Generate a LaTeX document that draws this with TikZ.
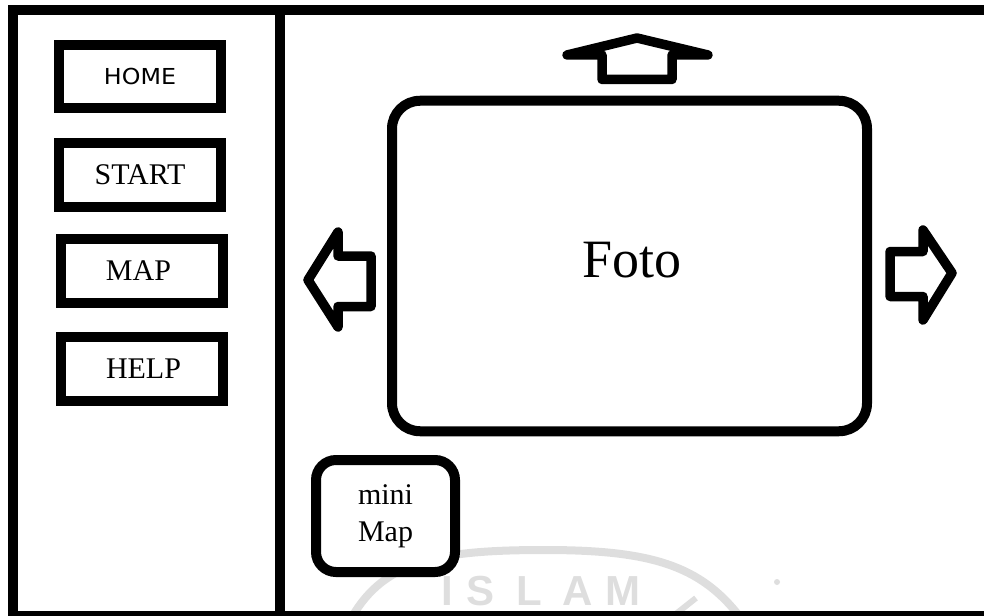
\documentclass[tikz,border=0pt]{standalone}
\usepackage{fontspec}
\usepackage{graphicx}
\setmainfont{Liberation Serif}
\newfontfamily\hsans{DejaVu Sans}
\newfontfamily\wsans{Liberation Sans}
\definecolor{wm}{RGB}{222,222,222}
\begin{document}
\begin{tikzpicture}[x=1pt,y=-1pt,
  frameline/.style={line width=10pt, line join=miter},
  btn/.style={draw, line width=10pt, minimum width=162pt, minimum height=63.5pt, inner sep=0pt,
    font=\fontsize{30}{34}\selectfont},
  rbox/.style={draw, line width=10pt, inner sep=0pt, fill=white},
  arr/.style={line width=9.5pt, line join=round}]
\useasboundingbox (0,0) rectangle (984,615);
\begin{scope}
\clip (0,0) rectangle (984,615);
% watermark
\draw[wm, line width=8pt] (352,617) .. controls (385,560) and (440,550) .. (545,550)
   .. controls (650,550) and (700,565) .. (740,617);
\draw[wm, line width=6pt] (696,598) -- (672,617);
\fill[wm] (777,582) circle (3);
\node[wm, anchor=base west, inner sep=0pt, font=\wsans\bfseries\fontsize{42}{42}\selectfont] (wmtext) at (441,605)
   {I\hspace{14pt}S\hspace{22pt}L\hspace{20pt}A\hspace{13pt}M};
% frame
\draw[frameline] (990,10.5) -- (13,10.5) -- (13,615.5) -- (990,615.5);
\draw[frameline] (279.5,10.5) -- (279.5,615.5);
\end{scope}
% menu buttons
\node[btn] (home) at (140,76.75) {\raisebox{-3pt}{\hsans\fontsize{22}{24}\selectfont\scalebox{1.08}[1]{HOME}}};
\node[btn] (start) at (140,175) {START};
\node[btn] (map) at (141.5,271) {\hspace{-6pt}MAP};
\node[btn, minimum height=64pt] (help) at (141.5,369) {\hspace{4pt}HELP};
% photo box
\node[rbox, rounded corners=28pt, minimum width=475pt, minimum height=330.5pt] (foto) at (629.5,266) {};
\node[font=\fontsize{54}{60}\selectfont, inner sep=0pt] (fototxt) at ([xshift=2.5pt,yshift=6pt]foto.center) {Foto};
% mini map
\node[rbox, rounded corners=20pt, minimum width=139pt, minimum height=112pt, align=center,
  font=\fontsize{30}{37}\selectfont] (mini) at (385.5,516) {mini\\Map};
% arrows
\draw[arr] (637,38) -- (708,55) -- (672,55) -- (672,79.5) -- (602,79.5) -- (602,55) -- (567,55) -- cycle;
\draw[arr] (308,280) -- (338,232) -- (338,256) -- (371,256) -- (371,306.5) -- (338,306.5) -- (338,327) -- cycle;
\draw[arr] (890,251.5) -- (923,251.5) -- (923,230) -- (952,273) -- (923,320) -- (923,296.5) -- (890,296.5) -- cycle;
\end{tikzpicture}
\end{document}
